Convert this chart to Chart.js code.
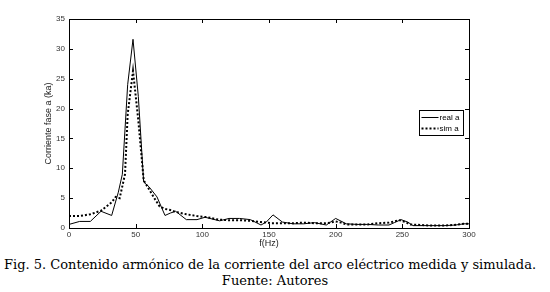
<!DOCTYPE html>
<html>
<head>
<meta charset="utf-8">
<script src="https://cdn.jsdelivr.net/npm/chart.js@4/dist/chart.umd.min.js"></script>
<style>
  html, body { margin: 0; padding: 0; background: #fff; }
  #wrap { width: 550px; height: 292px; position: relative; }
  canvas { display: block; }
  #cap { font-family: "DejaVu Serif", "Liberation Serif", serif; font-size: 13px; line-height: 16px; text-align: center; color: #000; margin-top: 7px; white-space: nowrap; }
  #cap span { display: inline-block; }
</style>
</head>
<body>
<div id="wrap">
  <canvas id="c" width="550" height="250"></canvas>
  <div id="cap"><span id="l1" style="margin-right:10px">Fig. 5. Contenido armónico de la corriente del arco eléctrico medida y simulada.</span><br>Fuente: Autores</div>
</div>
<script>
// ---- data ----
const realLabel = "real a";
const simLabel = "sim a";
const realFreq = [0, 8, 16, 24, 32, 37, 40, 44, 48, 52, 56, 60, 66, 72, 76, 80, 88, 96, 102, 113, 120, 128, 136, 144, 148, 153, 160, 168, 176, 184, 193, 200, 208, 216, 224, 232, 240, 244, 249, 254, 258, 266, 274, 282, 290, 296, 300];
const realVal  = [0.6, 1.1, 1.1, 2.8, 2.1, 6.0, 9.0, 24.0, 31.6, 22.0, 7.7, 6.9, 5.2, 2.1, 2.5, 2.8, 1.4, 1.4, 1.8, 1.2, 1.6, 1.6, 1.4, 0.5, 1.0, 2.2, 1.0, 0.7, 0.7, 0.9, 0.5, 1.6, 0.7, 0.6, 0.6, 0.5, 0.5, 0.9, 1.4, 1.0, 0.4, 0.4, 0.4, 0.4, 0.5, 0.7, 0.7];
const simFreq = [0, 8, 16, 24, 32, 35, 38, 42, 44, 48, 52, 56, 60, 64, 68, 72, 76, 80, 88, 96, 104, 112, 120, 128, 136, 144, 152, 160, 168, 176, 184, 192, 196, 200, 204, 208, 216, 224, 232, 240, 244, 248, 252, 256, 264, 272, 280, 288, 296, 300];
const simVal  = [2.0, 2.0, 2.3, 2.9, 4.3, 5.2, 5.0, 9.0, 19.0, 26.3, 18.0, 8.0, 6.5, 5.0, 3.6, 3.2, 3.0, 2.7, 2.3, 2.0, 1.8, 1.4, 1.3, 1.3, 1.2, 1.0, 0.8, 0.8, 0.8, 0.9, 0.8, 0.8, 0.9, 1.1, 0.9, 0.6, 0.6, 0.6, 0.8, 0.9, 1.1, 1.3, 1.0, 0.6, 0.5, 0.4, 0.4, 0.5, 0.7, 0.7];
const xTicks = [0, 50, 100, 150, 200, 250, 300];
const yTicks = [0, 5, 10, 15, 20, 25, 30, 35];
const xTitle = "f(Hz)";
const yTitle = "Corriente fase a (ka)";

const pts = (xs, ys) => xs.map((x, i) => ({ x: x, y: ys[i] }));

const framePlugin = {
  id: 'frame',
  afterDraw(chart) {
    const ctx = chart.ctx;
    const a = chart.chartArea;
    const xs = chart.scales.x, ys = chart.scales.y;
    ctx.save();
    ctx.strokeStyle = '#000';
    ctx.lineWidth = 1;
    ctx.strokeRect(Math.round(a.left) + 0.5, Math.round(a.top) + 0.5, Math.round(a.right - a.left), Math.round(a.bottom - a.top));
    const L = 4;
    ctx.beginPath();
    xTicks.forEach(v => {
      const px = Math.round(xs.getPixelForValue(v)) + 0.5;
      ctx.moveTo(px, a.bottom); ctx.lineTo(px, a.bottom - L);
      ctx.moveTo(px, a.top); ctx.lineTo(px, a.top + L);
    });
    yTicks.forEach(v => {
      const py = Math.round(ys.getPixelForValue(v)) + 0.5;
      ctx.moveTo(a.left, py); ctx.lineTo(a.left + L, py);
      ctx.moveTo(a.right, py); ctx.lineTo(a.right - L, py);
    });
    ctx.stroke();

    // legend box
    const bx = 419.5, by = 110.5, bw = 44, bh = 25;
    ctx.fillStyle = '#fff';
    ctx.fillRect(bx, by, bw, bh);
    ctx.strokeRect(bx, by, bw, bh);
    ctx.font = '8px "Liberation Sans", Arial, sans-serif';
    ctx.textBaseline = 'middle';
    ctx.fillStyle = '#000';
    chart.data.datasets.forEach((ds, i) => {
      const yy = by + 7 + i * 11;
      ctx.save();
      ctx.strokeStyle = ds.borderColor;
      ctx.lineWidth = ds.borderWidth;
      ctx.setLineDash(ds.borderDash || []);
      ctx.beginPath();
      ctx.moveTo(bx + 2, yy); ctx.lineTo(bx + 19, yy);
      ctx.stroke();
      ctx.restore();
      ctx.fillText(ds.label, bx + 20, yy);
    });
    ctx.restore();
  }
};

new Chart(document.getElementById('c'), {
  type: 'line',
  data: {
    datasets: [
      { label: realLabel, data: pts(realFreq, realVal), borderColor: '#000', borderWidth: 1, pointRadius: 0, tension: 0, fill: false },
      { label: simLabel, data: pts(simFreq, simVal), borderColor: '#000', borderWidth: 2, borderDash: [2, 2], pointRadius: 0, tension: 0, fill: false }
    ]
  },
  options: {
    responsive: false,
    animation: false,
    events: [],
    layout: { padding: { left: 0, top: 19, right: 81, bottom: 0 } },
    plugins: { legend: { display: false }, tooltip: { enabled: false } },
    scales: {
      x: {
        type: 'linear', min: 0, max: 300,
        afterBuildTicks: s => { s.ticks = xTicks.map(v => ({ value: v })); },
        afterFit: s => { s.height = 22; },
        grid: { display: false, drawTicks: false },
        border: { display: false },
        ticks: { padding: 2, color: '#333', font: { family: '"Liberation Sans", Arial, sans-serif', size: 8 }, maxRotation: 0 },
        title: { display: true, text: xTitle, color: '#222', font: { family: '"Liberation Sans", Arial, sans-serif', size: 9 }, padding: { top: 0, bottom: 1 } }
      },
      y: {
        type: 'linear', min: 0, max: 35,
        afterBuildTicks: s => { s.ticks = yTicks.map(v => ({ value: v })); },
        afterFit: s => { s.width = 69; },
        grid: { display: false, drawTicks: false },
        border: { display: false },
        ticks: { padding: 4, color: '#333', font: { family: '"Liberation Sans", Arial, sans-serif', size: 8 } },
        title: { display: true, text: yTitle, color: '#222', font: { family: '"Liberation Sans", Arial, sans-serif', size: 9 }, padding: { top: 43, bottom: 0 } }
      }
    }
  },
  plugins: [framePlugin]
});
</script>
</body>
</html>
